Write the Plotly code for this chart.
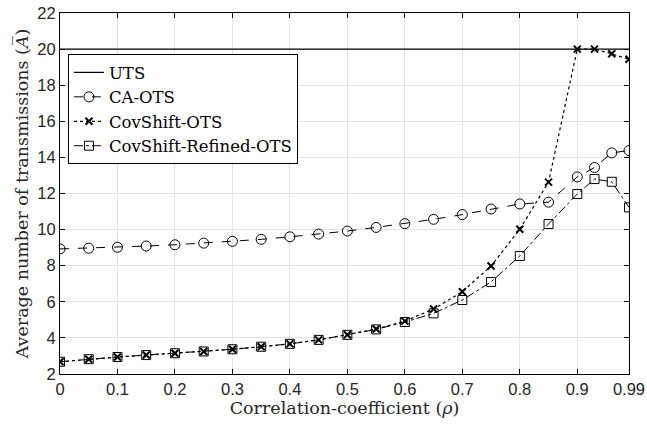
import plotly.graph_objects as go

rho = [0, 0.05, 0.1, 0.15, 0.2, 0.25, 0.3, 0.35, 0.4, 0.45, 0.5, 0.55, 0.6, 0.65, 0.7, 0.75, 0.8, 0.85, 0.9, 0.93, 0.96, 0.99]
uts = [20] * len(rho)
ca_ots = [8.93, 8.97, 9.02, 9.09, 9.16, 9.25, 9.35, 9.46, 9.60, 9.75, 9.92, 10.12, 10.33, 10.57, 10.83, 11.14, 11.42, 11.52, 12.92, 13.44, 14.25, 14.38]
covshift_ots = [2.68, 2.82, 2.94, 3.05, 3.15, 3.25, 3.37, 3.51, 3.67, 3.89, 4.17, 4.49, 4.93, 5.60, 6.56, 7.98, 10.02, 12.63, 20.0, 20.0, 19.74, 19.44]
covshift_refined = [2.68, 2.82, 2.94, 3.05, 3.15, 3.25, 3.37, 3.51, 3.67, 3.89, 4.17, 4.47, 4.88, 5.36, 6.10, 7.10, 8.54, 10.31, 11.97, 12.80, 12.65, 11.23]
xtick_vals = [0, 0.1, 0.2, 0.3, 0.4, 0.5, 0.6, 0.7, 0.8, 0.9, 0.99]
xtick_text = ["0", "0.1", "0.2", "0.3", "0.4", "0.5", "0.6", "0.7", "0.8", "0.9", "0.99"]
ytick_vals = [2, 4, 6, 8, 10, 12, 14, 16, 18, 20, 22]

serif = "DejaVu Serif, Liberation Serif, serif"
sans = "Liberation Sans, Arial, sans-serif"

fig = go.Figure()
fig.add_trace(go.Scatter(x=rho, y=uts, mode="lines", name="UTS",
                         line=dict(color="black", width=1.2)))
fig.add_trace(go.Scatter(x=rho, y=ca_ots, mode="lines+markers", name="CA-OTS",
                         line=dict(color="black", width=1, dash="dash"),
                         marker=dict(symbol="circle-open", size=10, color="black", line=dict(width=1))))
fig.add_trace(go.Scatter(x=rho, y=covshift_ots, mode="lines+markers", name="CovShift-OTS",
                         line=dict(color="black", width=1.2, dash="dot"),
                         marker=dict(symbol="x-thin-open", size=7, color="black", line=dict(width=2))))
fig.add_trace(go.Scatter(x=rho, y=covshift_refined, mode="lines+markers", name="CovShift-Refined-OTS",
                         line=dict(color="black", width=1, dash="dashdot"),
                         marker=dict(symbol="square-open", size=9, color="black", line=dict(width=1))))

axis_common = dict(showline=True, linecolor="black", linewidth=1, mirror="ticks",
                   ticks="inside", ticklen=5, tickcolor="black", automargin=False,
                   showgrid=True, gridcolor="#e3e3e3", gridwidth=1, zeroline=False,
                   tickfont=dict(family=sans, size=16.5, color="#262626"))

fig.update_layout(
    width=647, height=424,
    margin=dict(l=60, r=18, t=13, b=50),
    paper_bgcolor="white", plot_bgcolor="white",
    showlegend=True,
    legend=dict(x=0.014, y=0.886, xanchor="left", yanchor="top",
                bgcolor="white", bordercolor="black", borderwidth=1,
                font=dict(family=serif, size=16.5, color="black"),
                tracegroupgap=0, itemwidth=30),
    xaxis=dict(range=[0, 0.99], tickvals=xtick_vals, ticktext=xtick_text,
               title=dict(text="Correlation-coefficient (<i>ρ</i>)", font=dict(family=serif, size=17.5, color="#262626"), standoff=1),
               **axis_common),
    yaxis=dict(range=[2, 22], tickvals=ytick_vals,
               title=dict(text="Average number of transmissions (<i>A̅</i>)", font=dict(family=serif, size=17.5, color="#262626"), standoff=4),
               **axis_common),
)

fig.write_html("out.html")
